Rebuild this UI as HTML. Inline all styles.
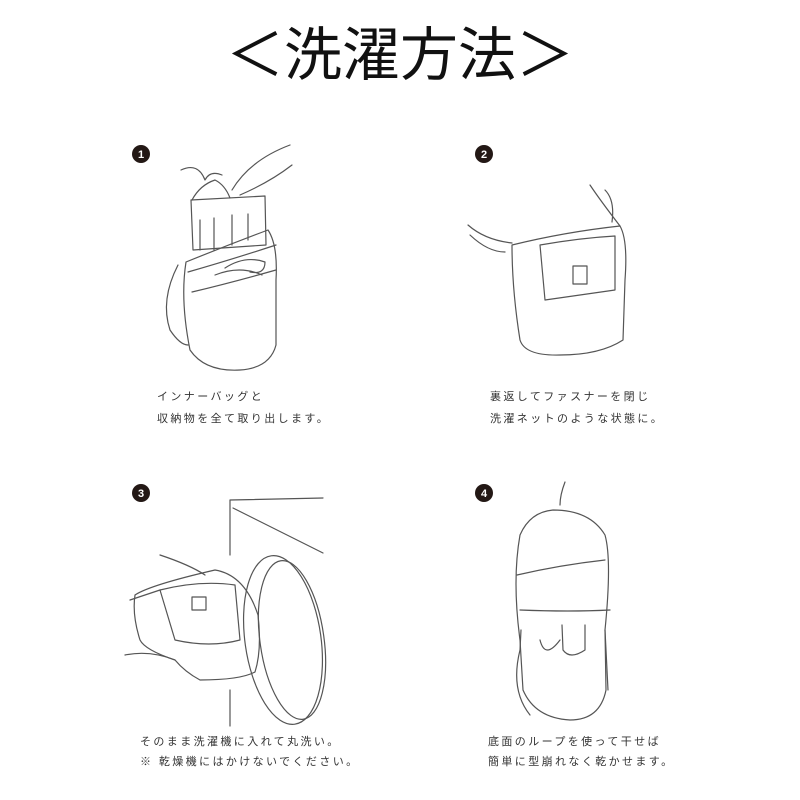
<!DOCTYPE html>
<html><head><meta charset="utf-8"><style>
html,body{margin:0;padding:0;background:#fff;}
body{width:800px;height:800px;position:relative;overflow:hidden;font-family:"Liberation Sans","Noto Sans CJK JP",sans-serif;}
.t{position:absolute;font-size:11px;letter-spacing:2.4px;color:#333;white-space:nowrap;}
.title{position:absolute;left:0;width:800px;top:8px;text-align:center;font-size:58px;color:#111;letter-spacing:0px;font-weight:400;}
</style></head><body>
<div class="title">＜洗濯方法＞</div>
<svg width="800" height="800" style="position:absolute;left:0;top:0" fill="none" stroke="#555" stroke-width="1.2" stroke-linejoin="round" stroke-linecap="round">
<g fill="#231815" stroke="none">
<circle cx="141" cy="154" r="9"/><circle cx="484" cy="154" r="9"/>
<circle cx="141" cy="493" r="9"/><circle cx="484" cy="493" r="9"/>
</g>
<g fill="#fff" stroke="none" font-size="11" font-weight="bold" font-family="Liberation Sans,sans-serif" text-anchor="middle">
<text x="141" y="158">1</text><text x="484" y="158">2</text><text x="141" y="497">3</text><text x="484" y="497">4</text>
</g>
<!-- panel 1 -->
<path d="M191 200 L265 196 L266 245 L193 250 Z"/>
<path d="M200 220 L200 250 M214 218 L214 250 M232 215 L232 245 M248 214 L248 240"/>
<path d="M192 200 Q200 185 215 180 Q225 185 230 198"/>
<path d="M186 262 Q228 245 268 230 Q278 245 276 280 L276 345 Q270 368 240 370 Q205 372 190 350 Q180 300 186 262 Z"/>
<path d="M188 272 Q230 260 276 245 M192 292 Q230 283 276 270"/>
<path d="M178 265 Q160 300 170 330 Q180 345 188 345"/>
<path d="M225 268 Q245 255 265 262 Q265 275 250 272 M215 275 Q240 265 262 275"/>
<path d="M181 170 Q198 162 205 180 Q210 170 222 175 M232 190 Q250 160 290 145 M240 195 Q270 182 292 165"/>
<!-- panel 2 -->
<path d="M512 245 Q565 232 620 226 Q628 240 625 280 L623 340 Q600 355 560 355 Q525 356 520 340 Q512 290 512 245 Z"/>
<path d="M540 245 Q580 238 615 236 L615 290 Q580 295 545 300 Z"/>
<rect x="573" y="266" width="14" height="18"/>
<path d="M468 225 Q485 240 512 243 M470 235 Q488 252 505 252 M620 226 Q600 200 590 185 M612 222 Q615 200 605 190"/>
<!-- panel 3 -->
<path d="M230 500 L323 498 M230 500 L230 555 M233 508 L323 553 M230 690 L230 726"/>
<ellipse cx="283" cy="640" rx="38" ry="85" transform="rotate(-8 283 640)"/>
<ellipse cx="292" cy="640" rx="32" ry="80" transform="rotate(-8 292 640)"/>
<path d="M135 595 Q150 585 215 570 Q245 575 258 615 Q262 650 255 672 Q240 680 200 680 Q185 672 175 660 Q145 650 140 640 Q132 615 135 595 Z"/>
<path d="M160 590 Q200 580 235 585 L240 640 Q210 648 175 640 Z"/>
<rect x="192" y="597" width="14" height="13"/>
<path d="M160 555 Q190 565 205 575 M125 655 Q150 650 175 660 M130 600 Q145 595 160 590"/>
<!-- panel 4 -->
<path d="M565 482 Q560 495 560 505 M553 510 Q590 510 605 535 Q612 560 605 630 L606 690 Q600 720 570 720 Q535 718 523 690 L520 640 Q512 580 520 535 Q530 512 553 510 Z"/>
<path d="M517 575 Q560 565 605 560 M520 610 Q570 612 610 610"/>
<path d="M521 630 L520 650 Q510 690 530 715 M605 630 L608 690"/>
<path d="M540 640 Q545 660 560 640 M562 625 L563 650 Q570 660 585 650 L585 625"/>
</svg>
<div class="t" style="left:157px;top:388px">インナーバッグと</div>
<div class="t" style="left:157px;top:410px">収納物を全て取り出します。</div>
<div class="t" style="left:490px;top:388px">裏返してファスナーを閉じ</div>
<div class="t" style="left:490px;top:410px">洗濯ネットのような状態に。</div>
<div class="t" style="left:140px;top:733px">そのまま洗濯機に入れて丸洗い。</div>
<div class="t" style="left:140px;top:753px">※ 乾燥機にはかけないでください。</div>
<div class="t" style="left:488px;top:733px">底面のループを使って干せば</div>
<div class="t" style="left:488px;top:753px">簡単に型崩れなく乾かせます。</div>
</body></html>
